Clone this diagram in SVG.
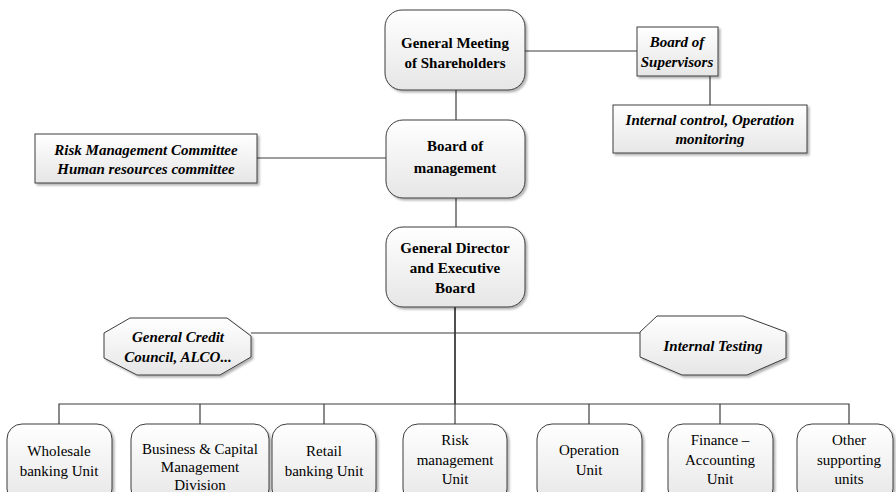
<svg xmlns="http://www.w3.org/2000/svg" width="896" height="492" viewBox="0 0 896 492">
<defs>
<linearGradient id="g" x1="0" y1="0" x2="0" y2="1">
<stop offset="0" stop-color="#ffffff"/>
<stop offset="1" stop-color="#e6e6e6"/>
</linearGradient>
<filter id="sh" x="-10%" y="-10%" width="130%" height="130%">
<feDropShadow dx="2" dy="2" stdDeviation="1" flood-color="#000" flood-opacity="0.3"/>
</filter>
<style>
.n{fill:url(#g);stroke:#3c3c3c;stroke-width:1;filter:url(#sh)}
.c{fill:none;stroke:#3c3c3c;stroke-width:1.2}
.b{font-family:"Liberation Serif","Times New Roman",serif;font-size:15px;font-weight:bold;text-anchor:middle;fill:#000}
.bi{font-family:"Liberation Serif","Times New Roman",serif;font-size:15px;font-weight:bold;font-style:italic;text-anchor:middle;fill:#000}
.r{font-family:"Liberation Serif","Times New Roman",serif;font-size:15px;text-anchor:middle;fill:#000}
</style>
</defs>
<g id="connectors">
<line class="c" x1="525" y1="51" x2="637" y2="51"/>
<line class="c" x1="710" y1="76" x2="710" y2="105"/>
<line class="c" x1="456" y1="90" x2="456" y2="120"/>
<line class="c" x1="257" y1="158" x2="386" y2="158"/>
<line class="c" x1="456" y1="198" x2="456" y2="227"/>
<line class="c" x1="455" y1="307" x2="455" y2="404" style="stroke-width:1.8"/>
<line class="c" x1="251" y1="333" x2="640" y2="333"/>
<polyline class="c" points="59,424 59,404 849,404 849,424"/>
<line class="c" x1="200" y1="404" x2="200" y2="424"/>
<line class="c" x1="324" y1="404" x2="324" y2="424"/>
<line class="c" x1="455" y1="404" x2="455" y2="424"/>
<line class="c" x1="589" y1="404" x2="589" y2="424"/>
<line class="c" x1="720" y1="404" x2="720" y2="424"/>
</g>
<g id="gms">
<rect class="n" x="385" y="10" width="140" height="80" rx="17"/>
<text class="b" x="455" y="48">General Meeting</text>
<text class="b" x="455" y="68">of Shareholders</text>
</g>
<g id="supervisors">
<rect class="n" x="637" y="27" width="81" height="49"/>
<text class="bi" x="677" y="47">Board of</text>
<text class="bi" x="677" y="67">Supervisors</text>
</g>
<g id="internal-control">
<rect class="n" x="613" y="105" width="194" height="48"/>
<text class="bi" x="710" y="125">Internal control, Operation</text>
<text class="bi" x="710" y="144">monitoring</text>
</g>
<g id="committees">
<rect class="n" x="35" y="134" width="222" height="49"/>
<text class="bi" x="146" y="155">Risk Management Committee</text>
<text class="bi" x="146" y="174">Human resources committee</text>
</g>
<g id="board">
<rect class="n" x="386" y="120" width="139" height="78" rx="17"/>
<text class="b" x="455" y="151">Board of</text>
<text class="b" x="455" y="173">management</text>
</g>
<g id="gd">
<rect class="n" x="386" y="227" width="139" height="80" rx="17"/>
<text class="b" x="455" y="253">General Director</text>
<text class="b" x="455" y="273">and Executive</text>
<text class="b" x="455" y="293">Board</text>
</g>
<g id="credit">
<polygon class="n" points="104,333 130,318 227,318 251,336 251,357 220,375 137,375 104,358"/>
<text class="bi" x="178" y="342">General Credit</text>
<text class="bi" x="178" y="362">Council, ALCO...</text>
</g>
<g id="testing">
<polygon class="n" points="640,332 657,316 743,316 786,332 786,358 747,375 682,375 640,357"/>
<text class="bi" x="713" y="351">Internal Testing</text>
</g>
<g id="wholesale">
<rect class="n" x="7" y="424" width="105" height="80" rx="15"/>
<text class="r" x="59" y="456">Wholesale</text>
<text class="r" x="59" y="476">banking Unit</text>
</g>
<g id="business">
<rect class="n" x="131" y="424" width="138" height="80" rx="15"/>
<text class="r" x="200" y="454">Business &amp; Capital</text>
<text class="r" x="200" y="472">Management</text>
<text class="r" x="200" y="490">Division</text>
</g>
<g id="retail">
<rect class="n" x="272" y="424" width="104" height="80" rx="15"/>
<text class="r" x="324" y="456">Retail</text>
<text class="r" x="324" y="476">banking Unit</text>
</g>
<g id="risk">
<rect class="n" x="403" y="424" width="104" height="80" rx="15"/>
<text class="r" x="455" y="445">Risk</text>
<text class="r" x="455" y="465">management</text>
<text class="r" x="455" y="484">Unit</text>
</g>
<g id="operation">
<rect class="n" x="537" y="424" width="105" height="80" rx="15"/>
<text class="r" x="589" y="455">Operation</text>
<text class="r" x="589" y="475">Unit</text>
</g>
<g id="finance">
<rect class="n" x="668" y="424" width="105" height="80" rx="15"/>
<text class="r" x="720" y="445">Finance –</text>
<text class="r" x="720" y="465">Accounting</text>
<text class="r" x="720" y="484">Unit</text>
</g>
<g id="other">
<rect class="n" x="797" y="424" width="96" height="80" rx="15"/>
<text class="r" x="849" y="445">Other</text>
<text class="r" x="849" y="465">supporting</text>
<text class="r" x="849" y="484">units</text>
</g>
</svg>
